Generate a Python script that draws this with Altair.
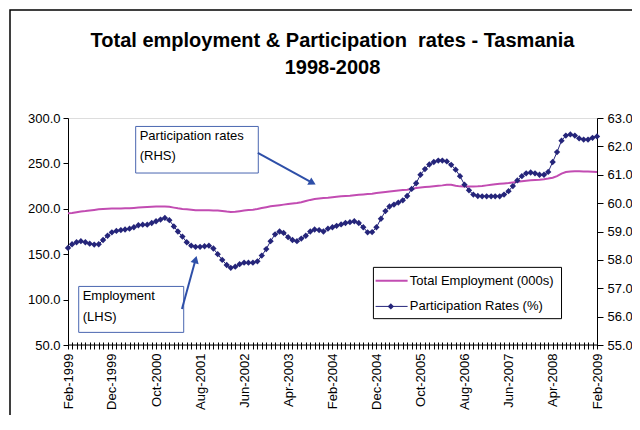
import json
import altair as alt
import pandas as pd

FONT = "Liberation Sans, Arial, sans-serif"

# ---------------- data ----------------
start_month = "1999-02-01"

employment = [
    195.0, 195.5, 196.3, 197.0, 197.5, 198.2, 198.8, 199.5, 199.8, 200.0,
    200.2, 200.3, 200.4, 200.5, 200.6, 201.0, 201.3, 201.6, 201.9, 202.2,
    202.4, 202.6, 202.6, 202.2, 201.3, 200.5, 199.9, 199.6, 199.0, 198.5,
    198.4, 198.3, 198.3, 198.2, 198.0, 197.5, 196.9, 196.5, 196.8, 197.4,
    198.0, 198.6, 199.0, 199.8, 200.8, 201.8, 202.8, 203.4, 204.0, 204.6,
    205.2, 205.8, 206.4, 207.3, 208.5, 209.8, 210.8, 211.3, 211.8, 212.2,
    212.8, 213.3, 213.8, 214.2, 214.5, 215.0, 215.4, 215.8, 216.2, 216.7,
    217.3, 218.0, 218.6, 219.1, 219.6, 220.1, 220.6, 221.0, 221.8, 222.8,
    223.4, 223.9, 224.3, 224.8, 225.4, 225.8, 226.4, 226.4, 225.4, 224.7,
    224.6, 224.6, 224.6, 224.8, 225.2, 225.8, 226.4, 227.0, 227.5, 227.9,
    228.4, 229.0, 229.7, 230.4, 231.0, 231.4, 231.7, 232.0, 232.6, 233.3,
    234.2, 236.0, 238.8, 240.5, 241.2, 241.3, 241.3, 241.2, 241.0, 240.8,
    240.5,
]

participation = [
    58.42, 58.55, 58.62, 58.66, 58.62, 58.57, 58.54, 58.55, 58.70, 58.85,
    58.97, 59.02, 59.05, 59.07, 59.10, 59.15, 59.22, 59.24, 59.24, 59.30,
    59.36, 59.42, 59.48, 59.40, 59.18, 59.00, 58.82, 58.62, 58.50, 58.46,
    58.46, 58.48, 58.50, 58.40, 58.20, 58.00, 57.82, 57.72, 57.76, 57.85,
    57.90, 57.90, 57.90, 57.95, 58.15, 58.38, 58.66, 58.90, 59.00, 58.95,
    58.80, 58.70, 58.66, 58.75, 58.85, 59.00, 59.07, 59.05, 59.00, 59.10,
    59.15, 59.20, 59.25, 59.30, 59.33, 59.36, 59.30, 59.15, 58.97, 58.98,
    59.15, 59.45, 59.72, 59.88, 59.95, 60.02, 60.10, 60.25, 60.50, 60.70,
    61.00, 61.20, 61.36, 61.45, 61.50, 61.50, 61.47, 61.35, 61.18, 60.95,
    60.65, 60.45, 60.30, 60.25, 60.24, 60.24, 60.24, 60.24, 60.24, 60.30,
    60.42, 60.60, 60.80, 60.95, 61.05, 61.08, 61.05, 61.00, 61.00, 61.10,
    61.45, 61.80, 62.20, 62.38, 62.42, 62.38, 62.28, 62.24, 62.24, 62.30,
    62.35,
]

x_tick_labels = [
    "Feb-1999", "Dec-1999", "Oct-2000", "Aug-2001", "Jun-2002", "Apr-2003",
    "Feb-2004", "Dec-2004", "Oct-2005", "Aug-2006", "Jun-2007", "Apr-2008",
    "Feb-2009",
]
left_ticks = [50, 100, 150, 200, 250, 300]
right_ticks = [55, 56, 57, 58, 59, 60, 61, 62, 63]
series_names = ["Total Employment (000s)", "Participation Rates (%)"]
# the double space is kept visible with a no-break space
title_lines = ["Total employment & Participation \u00a0rates - Tasmania", "1998-2008"]
rhs_note = ["Participation rates", "(RHS)"]
lhs_note = ["Employment", "(LHS)"]

# ---------------- styles ----------------
series_colors = ["#C24CB2", "#25257A"]
arrow_color = "#2E4FA8"
box_color = "#4A66B0"

dates = pd.date_range(start_month, periods=len(employment), freq="MS")
df = pd.DataFrame({"date": dates, "emp": employment, "part": participation})


def at(m):
    """timestamp at a (fractional) month offset from the first month"""
    whole = int(m)
    frac = m - whole
    d0 = dates[0] + pd.DateOffset(months=whole)
    d1 = dates[0] + pd.DateOffset(months=whole + 1)
    return d0 + (d1 - d0) * frac


def dt(d):
    return alt.DateTime(year=int(d.year), month=int(d.month), date=1)


idx = f"((year(datum.value)-{dates[0].year})*12 + month(datum.value) - {dates[0].month - 1})"
label_expr = f"{idx} % 10 == 0 ? {json.dumps(x_tick_labels)}[{idx}/10] : ''"

x_scale = alt.Scale(domain=[dt(dates[0]), dt(dates[-1])])
x_axis = alt.Axis(
    values=[dt(d) for d in dates], labelExpr=label_expr, labelAngle=-90,
    labelAlign="right", labelBaseline="middle", labelOverlap=False,
    labelFlush=False, tickSize=7, offset=-3, domain=False, labelPadding=4,
    labelFontSize=13, labelFont=FONT, labelColor="black", tickColor="black",
    grid=False, title=None,
)
left_scale = alt.Scale(domain=[left_ticks[0], left_ticks[-1]], zero=False, nice=False)
left_axis = alt.Axis(
    values=left_ticks, format=".1f", orient="left", tickSize=5, labelPadding=3,
    labelFontSize=13, labelFont=FONT, labelColor="black", tickColor="black",
    domainColor="black", grid=False, title=None,
)
right_scale = alt.Scale(domain=[right_ticks[0], right_ticks[-1]], zero=False, nice=False)
right_axis = alt.Axis(
    values=right_ticks, format=".1f", orient="right", tickSize=6, labelPadding=4,
    labelFontSize=13, labelFont=FONT, labelColor="black", tickColor="black",
    domainColor="black", grid=False, title=None,
)


def X(field):
    return alt.X(f"{field}:T", scale=x_scale, axis=x_axis, title=None)


def X2(field):
    return alt.X2(f"{field}:T")


def YL(field):
    return alt.Y(f"{field}:Q", scale=left_scale, axis=left_axis, title=None)


def Y2(field):
    return alt.Y2(f"{field}:Q")


# ---------------- left-axis layers ----------------
frame = alt.Chart(pd.DataFrame({"k": [0]})).mark_rect(
    filled=False, stroke="black", strokeWidth=1.5
).encode(x=alt.value(-58), x2=alt.value(900), y=alt.value(-108), y2=alt.value(600))

emp_line = alt.Chart(df).mark_line(color=series_colors[0], strokeWidth=2).encode(
    x=X("date"), y=YL("emp")
)

bottom_rule = alt.Chart(pd.DataFrame({"v": [left_ticks[0]]})).mark_rule(
    color="black", strokeWidth=1
).encode(y=YL("v"))

boxes = pd.DataFrame({
    "x1": [at(15.4), at(2.5)], "x2": [at(43.2), at(26.3)],
    "y1": [290.7, 114.5], "y2": [239.4, 63.9],
})
note_boxes = alt.Chart(boxes).mark_rect(fill="white", stroke=box_color, strokeWidth=1).encode(
    x=X("x1"), x2=X2("x2"), y=YL("y1"), y2=Y2("y2")
)

notes = pd.DataFrame({
    "t": rhs_note + lhs_note,
    "x": [at(16.3), at(16.3), at(3.4), at(3.4)],
    "y": [280.5, 257.7, 103.5, 80.8],
})
note_text = alt.Chart(notes).mark_text(
    align="left", baseline="middle", fontSize=13, font=FONT, color="black"
).encode(x=X("x"), y=YL("y"), text="t:N")

arrows = pd.DataFrame({
    "x1": [at(43.1), at(25.9)], "x2": [at(55.5), at(29.0)],
    "y1": [261.5, 89.6], "y2": [228.6, 144.1], "ang": [118.5, 15.3],
})
arrow_lines = alt.Chart(arrows).mark_rule(color=arrow_color, strokeWidth=2).encode(
    x=X("x1"), x2=X2("x2"), y=YL("y1"), y2=Y2("y2")
)
arrow_heads = alt.Chart(arrows).mark_point(
    shape="triangle-up", filled=True, color=arrow_color, size=70, opacity=1
).encode(x=X("x2"), y=YL("y2"), angle=alt.Angle("ang:Q", scale=None))

# legend (drawn with the same scales)
leg_box = alt.Chart(pd.DataFrame({"x1": [at(69.3)], "x2": [at(112.0)], "y1": [135.5], "y2": [79.0]})).mark_rect(
    fill="white", stroke="black", strokeWidth=1
).encode(x=X("x1"), x2=X2("x2"), y=YL("y1"), y2=Y2("y2"))

leg = pd.DataFrame({
    "name": series_names,
    "x1": [at(69.8)] * 2, "x2": [at(77.1)] * 2, "xm": [at(73.3)] * 2,
    "xt": [at(77.6)] * 2, "y": [120.8, 92.5], "w": [2, 1],
})
color_enc = alt.Color("name:N", scale=alt.Scale(domain=series_names, range=series_colors), legend=None)
leg_lines = alt.Chart(leg).mark_rule().encode(
    x=X("x1"), x2=X2("x2"), y=YL("y"), color=color_enc,
    strokeWidth=alt.StrokeWidth("w:Q", scale=None),
)
leg_marker = alt.Chart(leg).transform_filter(
    alt.datum.name == series_names[1]
).mark_point(shape="diamond", filled=True, size=40, opacity=1).encode(
    x=X("xm"), y=YL("y"), color=color_enc
)
leg_text = alt.Chart(leg).mark_text(
    align="left", baseline="middle", fontSize=13, font=FONT, color="black"
).encode(x=X("xt"), y=YL("y"), text="name:N")

left = alt.layer(
    frame, emp_line, bottom_rule, note_boxes, arrow_lines, arrow_heads, note_text,
    leg_box, leg_lines, leg_marker, leg_text,
)

# ---------------- right-axis layers ----------------
YR = alt.Y("part:Q", scale=right_scale, axis=right_axis, title=None)
part_line = alt.Chart(df).mark_line(color=series_colors[1], strokeWidth=1).encode(x=X("date"), y=YR)
part_pts = alt.Chart(df).mark_point(
    shape="diamond", filled=True, size=40, opacity=1, color=series_colors[1]
).encode(x=X("date"), y=YR)
right = alt.layer(part_line, part_pts)

chart = alt.layer(left, right).resolve_scale(y="independent").properties(
    width=529, height=227,
    title=alt.TitleParams(
        text=title_lines, fontSize=20, font=FONT, fontWeight="bold", color="black",
        anchor="middle", frame="group", offset=-89, baseline="bottom", lineHeight=27,
    ),
    padding={"left": 60, "top": 110, "right": 35, "bottom": 70},
    autosize=alt.AutoSizeParams(type="none"),
).configure_view(stroke=None).configure(background="white")

chart.save("out.html", embed_options={"renderer": "svg", "actions": False})
